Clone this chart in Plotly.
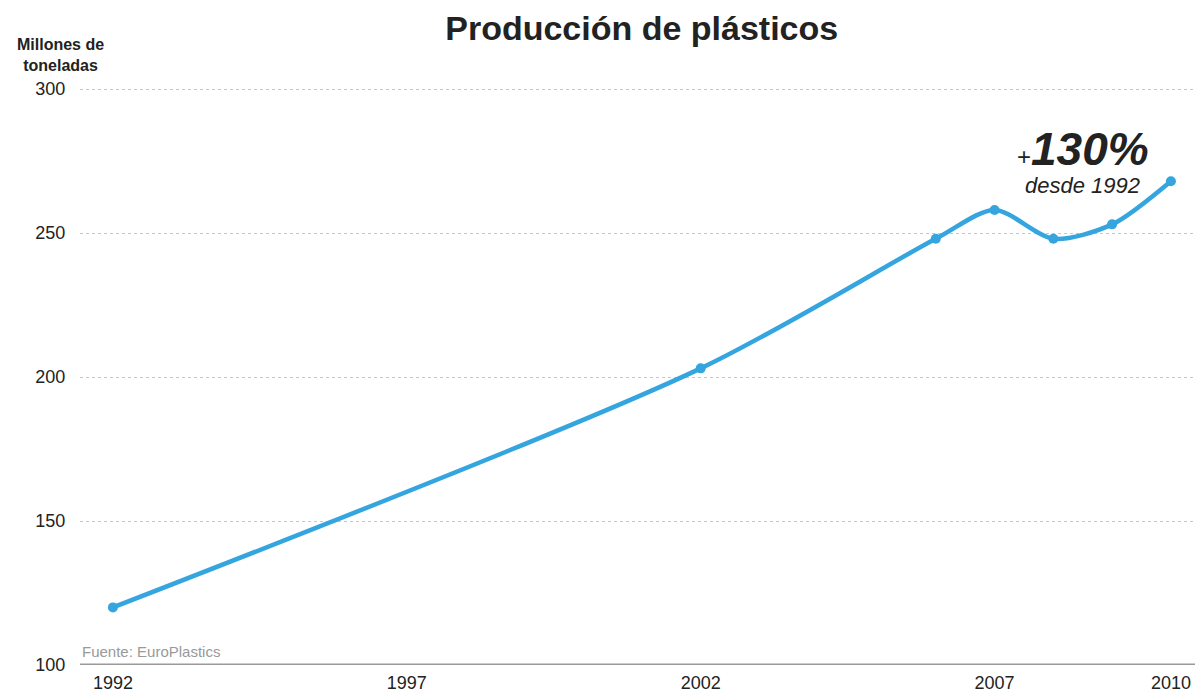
import plotly.graph_objects as go

years = [1992, 2002, 2006, 2007, 2008, 2009, 2010]
production = [120, 203, 248, 258, 248, 253, 268]
x_ticks = [1992, 1997, 2002, 2007, 2010]
y_ticks = [100, 150, 200, 250, 300]

FONT = "Liberation Sans, Arial, sans-serif"
BLUE = "#35a5e0"

fig = go.Figure()
fig.add_trace(go.Scatter(
    x=years, y=production, mode="lines+markers",
    line=dict(color=BLUE, width=4.5, shape="spline", smoothing=0.8),
    marker=dict(color=BLUE, size=10),
    hoverinfo="x+y", showlegend=False, cliponaxis=False,
))

fig.update_layout(
    width=1195, height=695,
    margin=dict(l=80, r=0, t=88, b=30, autoexpand=False),
    paper_bgcolor="white", plot_bgcolor="white",
    font=dict(family=FONT, color="#222"),
    title=dict(text="<b>Producción de plásticos</b>", x=0.537, xanchor="center",
               y=0.96, yanchor="middle", font=dict(size=34, color="#222", family=FONT)),
    xaxis=dict(range=[1991.44, 2010.41], tickvals=x_ticks, ticktext=[str(v) for v in x_ticks],
               showgrid=False, zeroline=False, showline=False, automargin=False,
               ticks="outside", ticklen=1, tickcolor="rgba(0,0,0,0)",
               tickfont=dict(size=18, color="#222")),
    yaxis=dict(range=[100, 300.35], tickvals=y_ticks, showgrid=True, automargin=False,
               gridcolor="#c8c8c8", griddash="dot", gridwidth=1, zeroline=False,
               ticks="outside", ticklen=10, tickcolor="rgba(0,0,0,0)",
               tickfont=dict(size=18, color="#222")),
)

# bottom axis line
fig.add_shape(type="line", xref="paper", yref="y", x0=0, x1=1, y0=100, y1=100,
              line=dict(color="#999999", width=3), layer="above")

fig.add_annotation(xref="paper", yref="paper", x=0, xshift=-20, y=1.0, yshift=12,
                   xanchor="center", yanchor="bottom",
                   text="<b>Millones de<br>toneladas</b>", showarrow=False, align="center",
                   font=dict(size=16, color="#222", family=FONT))

fig.add_annotation(xref="paper", yref="y", x=0.0, y=100, xanchor="left", yanchor="bottom",
                   yshift=3, text="Fuente: EuroPlastics", showarrow=False,
                   font=dict(size=15, color="#999999", family=FONT))

fig.add_annotation(xref="x", yref="y", x=2008.5, y=279, xanchor="center", yanchor="middle",
                   text="<span style='font-size:24px'>+</span><b><i>130%</i></b>", showarrow=False,
                   font=dict(size=46, color="#222", family=FONT))
fig.add_annotation(xref="x", yref="y", x=2008.49, y=266.5, xanchor="center", yanchor="middle",
                   text="<i>desde 1992</i>", showarrow=False,
                   font=dict(size=22, color="#222", family=FONT))

fig.write_html("out.html", config={"displayModeBar": False},
               post_script="document.body.style.margin='0';document.body.style.overflow='hidden';")
